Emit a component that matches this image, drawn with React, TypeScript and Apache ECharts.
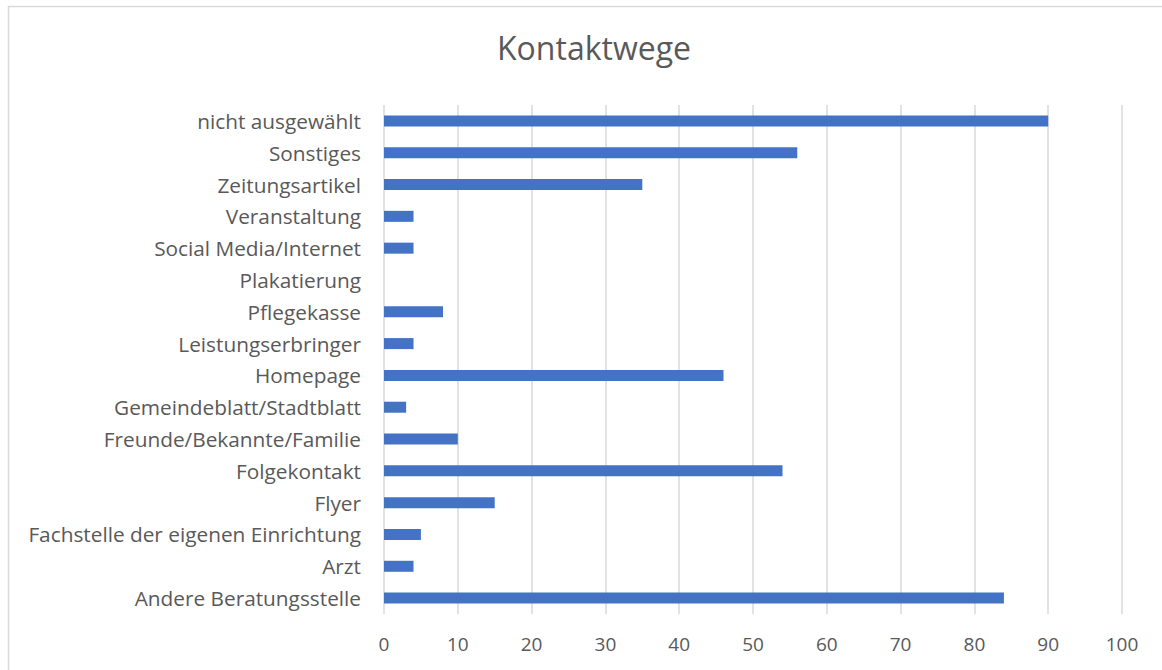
import React, { useEffect, useRef } from "react";
import * as echarts from "echarts";

const categories = [
  "nicht ausgewählt",
  "Sonstiges",
  "Zeitungsartikel",
  "Veranstaltung",
  "Social Media/Internet",
  "Plakatierung",
  "Pflegekasse",
  "Leistungserbringer",
  "Homepage",
  "Gemeindeblatt/Stadtblatt",
  "Freunde/Bekannte/Familie",
  "Folgekontakt",
  "Flyer",
  "Fachstelle der eigenen Einrichtung",
  "Arzt",
  "Andere Beratungsstelle",
];
const values = [90, 56, 35, 4, 4, 0, 8, 4, 46, 3, 10, 54, 15, 5, 4, 84];
const title = "Kontaktwege";

export default function App() {
  const ref = useRef<HTMLDivElement>(null);
  useEffect(() => {
    if (!ref.current) return;
    const chart = echarts.init(ref.current, undefined, { renderer: "svg" });
    const font = "'Open Sans', sans-serif";
    chart.setOption({
      animation: false,
      graphic: [
        {
          type: "rect",
          shape: { x: 8.5, y: 6.5, width: 1200, height: 700 },
          style: { fill: "none", stroke: "#d9d9d9", lineWidth: 1.5 },
          silent: true,
        },
      ],
      title: {
        text: title,
        left: 589,
        textAlign: "center",
        top: 26,
        textStyle: { color: "#595959", fontSize: 32, fontWeight: "normal", fontFamily: font },
      },
      grid: { left: 384, right: 40, top: 105, bottom: 56, containLabel: false },
      xAxis: {
        type: "value",
        min: 0,
        max: 100,
        interval: 10,
        axisLine: { show: false },
        axisTick: { show: false },
        splitLine: { show: true, lineStyle: { color: "#d9d9d9", width: 1.5 } },
        axisLabel: { color: "#595959", fontSize: 19, fontFamily: font, margin: 20 },
      },
      yAxis: {
        type: "category",
        data: categories,
        inverse: true,
        axisLine: { show: false },
        axisTick: { show: false },
        axisLabel: { color: "#595959", fontSize: 20.8, fontFamily: font, margin: 23 },
      },
      series: [
        {
          type: "bar",
          data: values,
          barWidth: 11,
          itemStyle: { color: "#4472C4" },
        },
      ],
    });
    return () => chart.dispose();
  }, []);
  return <div ref={ref} style={{ position: "absolute", left: 0, top: 0, width: 1162, height: 670 }} />;
}
